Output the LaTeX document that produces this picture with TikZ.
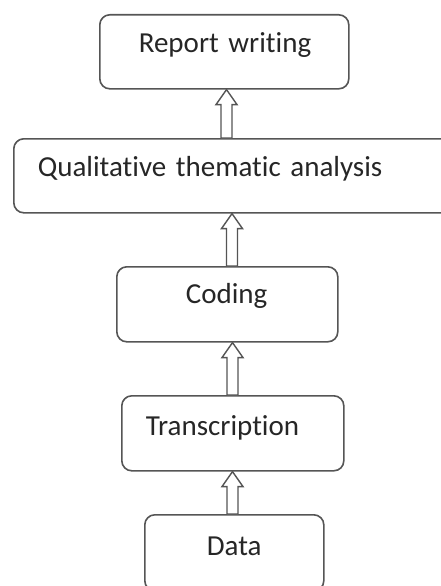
\documentclass[tikz,border=0pt]{standalone}
\usepackage{fontspec}
\setmainfont{Carlito}[Ligatures=NoCommon, WordSpace=0.75]
\usetikzlibrary{calc}
\definecolor{boxgray}{RGB}{85,85,85}
\tikzset{
  stepbox/.style={draw=boxgray, line width=1.6pt, rounded corners=10pt, anchor=north west,
    inner sep=0pt, align=left, font=\fontsize{29}{34}\selectfont, text=black!85},
  blockarrow/.style={draw=boxgray, line width=1.4pt, fill=white, line join=miter}
}
\newcommand\blockarrow[3]{%
  \coordinate (ax) at (#1,0);
  \draw[blockarrow] ($(ax |- #2.north)+(-5.5,0)$) -- ($(ax |- #3.south)+(-5.5,15)$)
    -- ($(ax |- #3.south)+(-10.5,15)$) -- (ax |- #3.south)
    -- ($(ax |- #3.south)+(10.5,15)$) -- ($(ax |- #3.south)+(5.5,15)$)
    -- ($(ax |- #2.north)+(5.5,0)$) -- cycle;
}
\begin{document}
\begin{tikzpicture}[x=1pt,y=-1pt]
\useasboundingbox (0,0) rectangle (441,586);
\node[stepbox, text width=249pt, text height=38pt, text depth=36pt] (report) at (99,14) {\hspace*{39pt}Report writing};
\node[stepbox, text width=440pt, text height=38pt, text depth=36pt] (qual) at (13,138) {\hspace*{24pt}Qualitative thematic analysis};
\node[stepbox, text width=221pt, text height=37pt, text depth=38pt] (coding) at (116,266) {\hspace*{69pt}Coding};
\node[stepbox, text width=222pt, text height=40pt, text depth=35pt] (trans) at (121,395) {\hspace*{24pt}Transcription};
\node[stepbox, text width=179pt, text height=41pt, text depth=35pt] (data) at (144,514) {\hspace*{62pt}Data};
\blockarrow{226.5}{qual}{report}
\blockarrow{232}{coding}{qual}
\blockarrow{232.5}{trans}{coding}
\blockarrow{232.5}{data}{trans}
\end{tikzpicture}
\end{document}
